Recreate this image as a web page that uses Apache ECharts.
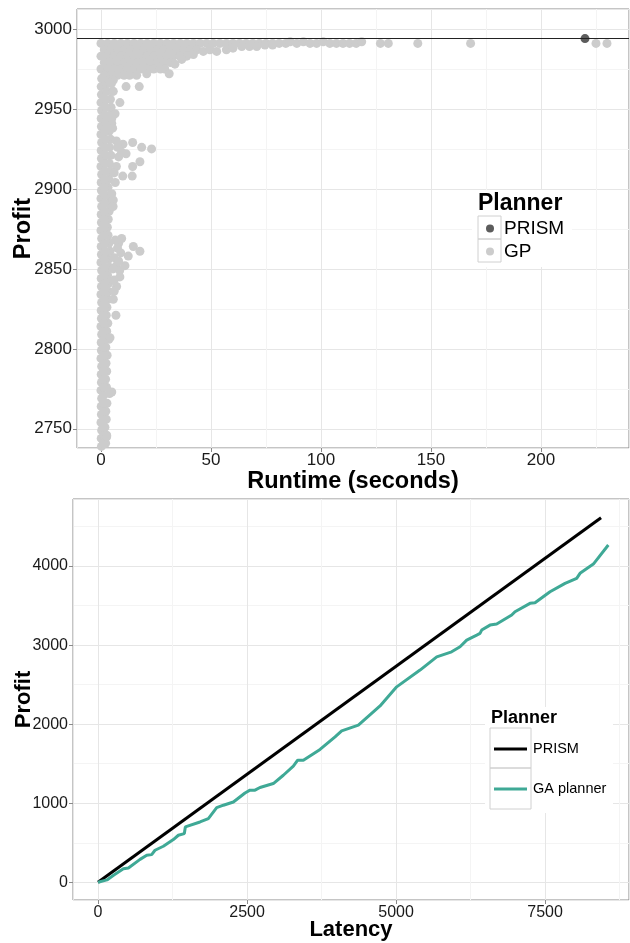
<!DOCTYPE html>
<html>
<head>
<meta charset="utf-8">
<script src="https://cdn.jsdelivr.net/npm/echarts@6/dist/echarts.min.js"></script>
<style>
  html, body { margin: 0; padding: 0; background: #fff; }
  #chart { width: 630px; height: 943px; }
</style>
</head>
<body>
<div id="chart"></div>
<script>
// top panel: runtime (s) vs profit
var prismPoint = [[220, 2994]];
// dense column of GP runs near zero runtime
var gpBand = [
  [0.2,2739],[2.1,2741],[0.1,2744],[2.6,2746],[0.3,2749],[1.8,2751],[0,2754],[2.4,2756],[0.2,2759],[2.2,2761],
  [0.1,2764],[2.7,2766],[0.3,2769],[3.9,2772],[0,2774],[2.5,2776],[0.2,2779],[2.1,2781],[0.1,2784],[2.6,2786],
  [0.3,2789],[2.3,2791],[0,2794],[2.8,2796],[0.2,2799],[2.2,2801],[0.1,2804],[3.6,2806],[0.3,2809],[2.6,2811],
  [0,2814],[3.1,2816],[0.2,2819],[2.4,2821],[0.1,2824],[2.7,2826],[0.3,2829],[3.3,2831],[0,2834],[3.2,2836],
  [0.2,2839],[3.5,2841],[0.1,2844],[3.0,2846],[0.3,2849],[3.8,2851],[0,2854],[3.4,2856],[0.2,2859],[4.1,2861],
  [0.1,2864],[3.6,2866],[0.3,2869],[3.2,2871],[0,2874],[2.9,2876],[0.2,2879],[3.3,2881],[0.1,2884],[3.7,2886],
  [0.3,2889],[3.5,2891],[0,2894],[3.9,2896],[0.2,2899],[3.2,2901],[0.1,2904],[3.6,2906],[0.3,2909],[4.2,2911],
  [0,2914],[3.8,2916],[0.2,2919],[4.5,2921],[0.1,2924],[3.9,2926],[0.3,2929],[4.4,2931],[0,2934],[3.7,2936],
  [0.2,2939],[4.9,2941],[0.1,2944],[4.1,2946],[0.3,2949],[4.6,2951],[0,2954],[4.3,2956],[0.2,2959],[5.2,2961],
  [0.1,2964],[4.8,2966]
];
// runs between the two edges of the column
var gpBandMid = [
  [1.1,2741],[1.3,2746],[0.9,2751],[1.2,2756],[1.4,2761],[1.0,2766],[1.2,2771],[1.3,2776],[0.9,2781],[1.1,2786],
  [1.2,2791],[1.4,2796],[1.0,2801],[1.5,2806],[1.2,2811],[1.3,2816],[1.1,2821],[1.4,2826],[1.6,2831],[1.5,2836],
  [1.7,2841],[1.4,2846],[1.8,2851],[1.6,2856],[1.9,2861],[1.7,2866],[1.5,2871],[1.4,2876],[1.6,2881],[1.8,2886],
  [1.7,2891],[1.9,2896],[1.6,2901],[1.8,2906],[2.0,2911],[1.9,2916],[2.2,2921],[1.9,2926],[2.1,2931],[1.8,2936],
  [2.4,2941],[2.0,2946],[2.3,2951],[2.1,2956],[2.6,2961],[2.4,2966]
];
// GP runs close to the best profit
var gpCloud = [
  [0,2991],[3,2991],[6,2991],[9,2991],[12,2991],[15,2991],[18,2991],[21,2991],[24,2991],[27,2991],
  [30,2991],[33,2991],[36,2991],[39,2991],[42,2991],[45,2991],[48,2991],[51,2991],[54,2991],[57,2991],
  [60,2991],[63,2991],[66,2991],[69,2991],[72,2991],[75,2991],[78,2991],[81,2991],[84,2991],
  [1.5,2987],[4.5,2987],[7.5,2987],[10.5,2987],[13.5,2987],[16.5,2987],[19.5,2987],[22.5,2987],[25.5,2987],
  [28.5,2987],[31.5,2987],[34.5,2987],[37.5,2987],[40.5,2987],[43.5,2987],[46.5,2986],[49.5,2987],[52.6,2986],
  [57,2987],[60,2988],[64,2989],[67.5,2989],[70.8,2989],[74.5,2990],[78,2990],
  [0,2983],[3,2983],[6,2983],[9,2983],[12,2983],[15,2983],[18,2983],[21,2983],[24,2983],[27,2983],
  [30,2983],[33,2983],[36,2983],[39,2983],[42,2984],
  [1.5,2979],[4.5,2979],[7.5,2979],[10.5,2979],[13.5,2979],[16.5,2979],[19.5,2979],[22.5,2979],[25.5,2979],
  [28.5,2979],[31.5,2979],[33.6,2978],[36.7,2981],
  [0,2975],[3,2975],[6,2975],[9,2975],[12,2975],[15,2975],[18,2975],[21,2975],[24,2975],[27,2975],[29,2975],
  [1.5,2971],[4.5,2971],[7.5,2971],[10.5,2971],[13,2971],[16.2,2971],[20.8,2972],[31,2972],[0.3,2969],[3.5,2968]
];
// slow GP runs along the top
var gpTail = [
  [86,2992],[89,2991],[92,2992],[95,2991],[98,2991],[101,2992],[104,2991],[107,2991],[110,2991],
  [113,2991],[116,2991],[118.5,2992],[127,2991],[130.6,2991],[144,2991],[168,2991],[225,2991],[230,2991]
];
var gpOutliers = [
  [5.6,2968],[4.1,2966],[5.6,2961],[11.4,2964],[17.4,2964],[8.6,2954],[6.4,2947],[4.9,2944],[5.3,2938],
  [7,2930],[10,2928],[14.4,2929],[18.5,2926],[23,2925],[11.4,2922],[9.4,2923],[7.5,2926],[8,2920],
  [17.7,2917],[14.4,2914],[7,2914],[6,2910],[9.9,2908],[14.2,2908],[6.5,2904],
  [4.9,2897],[5.6,2893],[5.5,2889],
  [8,2866],[6.5,2868],[9.4,2869],[14.7,2864],[17.7,2861],[9,2860],[7.5,2863],[12.4,2858],[6,2857],
  [10.9,2852],[8,2855],[7,2852],[5.5,2850],[8.5,2849],[8.6,2845],[6,2843],[7.1,2839],[6,2836],
  [5.6,2831],[6.8,2821],[4.1,2807],[4.9,2773],[2.6,2745]
];

// bottom panel: latency vs profit
var prismLine = [[0, 0], [8440, 4610]];
var gaLine = [
  [0,0],[150,30],[260,90],[425,170],[510,181],[705,290],[817,342],[900,350],[956,405],[1096,456],
  [1264,540],[1348,595],[1448,616],[1465,700],[1711,763],[1851,806],[1991,945],[2103,975],[2271,1016],
  [2466,1130],[2550,1165],[2634,1165],[2718,1199],[2941,1249],[3109,1354],[3277,1468],[3350,1544],
  [3445,1544],[3725,1680],[3977,1839],[4088,1915],[4368,1987],[4732,2230],[5011,2472],[5403,2684],
  [5683,2852],[5933,2915],[6074,2979],[6186,3063],[6354,3127],[6409,3148],[6437,3190],[6577,3253],
  [6689,3266],[6941,3380],[6996,3422],[7248,3528],[7332,3536],[7584,3675],[7836,3781],[8031,3844],
  [8087,3908],[8311,4025],[8562,4266]
];

var FONT = "'Liberation Sans', Arial, Helvetica, sans-serif";
var gpData = gpBand.concat(gpBandMid, gpCloud, gpTail, gpOutliers);

function valueAxis(o) {
  return {
    type: 'value',
    gridIndex: o.grid,
    min: o.min, max: o.max,
    minInterval: o.step, maxInterval: o.step,
    name: o.name, nameLocation: 'middle', nameGap: o.gap, nameMoveOverlap: false,
    nameTextStyle: { fontFamily: FONT, fontWeight: 'bold', fontSize: o.nameSize, color: '#000' },
    axisLine: { show: false, onZero: false },
    axisTick: { show: true, length: 4, lineStyle: { color: '#8a8a8a' } },
    axisLabel: {
      fontFamily: FONT, fontSize: o.labelSize, color: '#1a1a1a', margin: o.margin,
      showMinLabel: false, showMaxLabel: false,
      formatter: function(v) { return v % o.step === 0 ? String(v) : ''; }
    },
    splitLine: { show: true, lineStyle: { color: '#e6e6e6', width: 1 } },
    minorTick: { show: false, splitNumber: 2 },
    minorSplitLine: { show: true, lineStyle: { color: '#f4f4f4', width: 1 } }
  };
}

var chart = echarts.init(document.getElementById('chart'));
var option = {
  animation: false,
  backgroundColor: '#fff',
  grid: [
    { left: 77, top: 9, right: 1, bottom: 495, containLabel: false, outerBoundsMode: 'none',
      show: true, borderColor: '#8a8a8a', borderWidth: 1 },
    { left: 73, top: 499, right: 1, bottom: 43, containLabel: false, outerBoundsMode: 'none',
      show: true, borderColor: '#8a8a8a', borderWidth: 1 }
  ],
  xAxis: [
    valueAxis({ grid: 0, min: -10.9, max: 240, step: 50, name: 'Runtime (seconds)', gap: 22, nameSize: 23.5, labelSize: 17, margin: 4 }),
    valueAxis({ grid: 1, min: -420, max: 8909, step: 2500, name: 'Latency', gap: 19, nameSize: 22, labelSize: 16, margin: 5 })
  ],
  yAxis: [
    valueAxis({ grid: 0, min: 2738, max: 3012.5, step: 50, name: 'Profit', gap: 41, nameSize: 23.5, labelSize: 17, margin: 5 }),
    valueAxis({ grid: 1, min: -224, max: 4848, step: 1000, name: 'Profit', gap: 38, nameSize: 22, labelSize: 16, margin: 5 })
  ],
  legend: [
    {
      orient: 'vertical', left: 486, top: 217, padding: 0, itemGap: 0,
      itemWidth: 8, itemHeight: 8, icon: 'circle',
      data: ['PRISM', 'GP'],
      textStyle: { fontFamily: FONT, fontSize: 19, color: '#000', lineHeight: 23, padding: [0, 0, 0, 5] },
      selectedMode: false
    },
    {
      orient: 'vertical', left: 494, top: 729, padding: 0, itemGap: 0,
      itemWidth: 33, itemHeight: 3, icon: 'rect',
      data: ['PRISM line', 'GA planner'],
      formatter: function(n) { return n === 'PRISM line' ? 'PRISM' : n; },
      textStyle: { fontFamily: FONT, fontSize: 14.5, color: '#000', lineHeight: 40, padding: [0, 0, 0, 1] },
      selectedMode: false
    }
  ],
  graphic: [
    { type: 'rect', z: 3, shape: { x: 472, y: 190, width: 100, height: 77 }, style: { fill: '#fff' } },
    { type: 'rect', z: 3, z2: 1, shape: { x: 478, y: 216, width: 23, height: 23 }, style: { fill: 'none', stroke: '#d0d0d0', lineWidth: 1 } },
    { type: 'rect', z: 3, z2: 1, shape: { x: 478, y: 239, width: 23, height: 23 }, style: { fill: 'none', stroke: '#d0d0d0', lineWidth: 1 } },
    { type: 'text', z: 5, style: { x: 478, y: 204, text: 'Planner', font: 'bold 23px ' + FONT, fill: '#000', verticalAlign: 'middle' } },
    { type: 'rect', z: 3, shape: { x: 485, y: 707, width: 128, height: 106 }, style: { fill: '#fff' } },
    { type: 'rect', z: 3, z2: 1, shape: { x: 490, y: 728, width: 41, height: 40 }, style: { fill: 'none', stroke: '#d0d0d0', lineWidth: 1 } },
    { type: 'rect', z: 3, z2: 1, shape: { x: 490, y: 768, width: 41, height: 41 }, style: { fill: 'none', stroke: '#d0d0d0', lineWidth: 1 } },
    { type: 'text', z: 5, style: { x: 491, y: 718, text: 'Planner', font: 'bold 18px ' + FONT, fill: '#000', verticalAlign: 'middle' } }
  ],
  series: [
    {
      name: 'GP', type: 'scatter', xAxisIndex: 0, yAxisIndex: 0,
      data: gpData, symbolSize: 9,
      itemStyle: { color: '#cccccc', opacity: 1 }
    },
    {
      name: 'PRISM', type: 'scatter', xAxisIndex: 0, yAxisIndex: 0,
      data: prismPoint, symbolSize: 9,
      itemStyle: { color: '#333333' },
      markLine: {
        silent: true, symbol: 'none', label: { show: false },
        lineStyle: { color: '#222', width: 1, type: 'solid' },
        data: [{ yAxis: prismPoint[0][1] }]
      }
    },
    {
      name: 'PRISM line', type: 'line', xAxisIndex: 1, yAxisIndex: 1,
      data: prismLine, symbol: 'none',
      lineStyle: { color: '#000', width: 3 }, itemStyle: { color: '#000' }
    },
    {
      name: 'GA planner', type: 'line', xAxisIndex: 1, yAxisIndex: 1,
      data: gaLine, symbol: 'none',
      lineStyle: { color: '#3fa996', width: 3 }, itemStyle: { color: '#3fa996' }
    }
  ]
};
chart.setOption(option);
</script>
</body>
</html>
